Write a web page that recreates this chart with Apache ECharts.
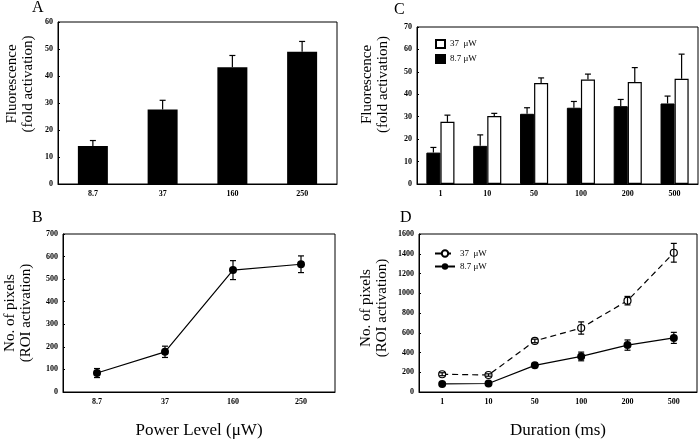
<!DOCTYPE html>
<html>
<head>
<meta charset="utf-8">
<script src="https://cdn.jsdelivr.net/npm/echarts@6/dist/echarts.min.js"></script>
<style>
html,body{margin:0;padding:0;background:#fff;}
#chart{width:700px;height:440px;}
</style>
</head>
<body>
<div id="chart"></div>
<script>
// Panel A: fluorescence vs power level
const powerLevels = ['8.7', '37', '160', '250'];
const fluorPower = [14.1, 27.6, 43.2, 49.0];
const fluorPowerErr = [2.0, 3.4, 4.4, 3.8];

// Panel B: number of pixels vs power level
const pixelsPower = [84, 178, 540, 566];
const pixelsPowerErr = [20, 25, 42, 37];

// Panel C: fluorescence vs duration
const durations = ['1', '10', '50', '100', '200', '500'];
const fluorDur87 = [14.0, 17.0, 31.3, 34.0, 34.7, 35.9];
const fluorDur87Err = [2.3, 4.9, 2.7, 2.8, 3.0, 3.3];
const fluorDur37 = [27.7, 30.3, 45.0, 46.6, 45.5, 46.9];
const fluorDur37Err = [3.0, 1.2, 2.3, 2.4, 6.4, 11.0];

// Panel D: number of pixels vs duration
const pixelsDur37 = [180, 172, 517, 648, 925, 1410];
const pixelsDur37Err = [15, 12, 18, 62, 43, 95];
const pixelsDur87 = [82, 86, 270, 360, 475, 548];
const pixelsDur87Err = [12, 18, 22, 44, 52, 56];

const serif = 'Liberation Serif';
const tickFont = {fontFamily: serif, fontWeight: 'bold', fontSize: 8, color: '#000'};

function errBarRender(offsetFrac, bothSides) {
  return function (params, api) {
    const x = api.value(0), lo = api.value(1), hi = api.value(2);
    const bw = api.size([1, 0])[0];
    const pHi = api.coord([x, hi]);
    const pLo = api.coord([x, lo]);
    const cx = pHi[0] + bw * offsetFrac;
    const cap = 3;
    const style = {stroke: '#000', lineWidth: 1.2};
    const children = [
      {type: 'line', shape: {x1: cx, y1: pLo[1], x2: cx, y2: pHi[1]}, style},
      {type: 'line', shape: {x1: cx - cap, y1: pHi[1], x2: cx + cap, y2: pHi[1]}, style}
    ];
    if (bothSides) {
      children.push({type: 'line', shape: {x1: cx - cap, y1: pLo[1], x2: cx + cap, y2: pLo[1]}, style});
    }
    return {type: 'group', children};
  };
}
function upErr(vals, errs) { return vals.map((v, i) => [i, v, v + errs[i]]); }
function bothErr(vals, errs) { return vals.map((v, i) => [i, v - errs[i], v + errs[i]]); }

function catAxis(gi, cats) {
  return {
    type: 'category', gridIndex: gi, data: cats, boundaryGap: true,
    axisLine: {lineStyle: {color: '#000', width: 1}},
    axisTick: {show: false},
    axisLabel: Object.assign({margin: 6}, tickFont)
  };
}
function valAxis(gi, max, interval, name, gap, shiftUp) {
  return {
    type: 'value', gridIndex: gi, min: 0, max, interval,
    name, nameLocation: 'middle', nameRotate: 90, nameGap: gap,
    nameTextStyle: {fontFamily: serif, fontSize: 15, color: '#000', lineHeight: 16,
                    padding: [0, 0, 0, shiftUp * 2]},
    splitLine: {show: false},
    axisLine: {show: true, lineStyle: {color: '#000', width: 1}},
    axisTick: {show: true, inside: true, length: 2, lineStyle: {color: '#000'}},
    axisLabel: Object.assign({margin: 5, formatter: v => String(v)}, tickFont)
  };
}

const chart = echarts.init(document.getElementById('chart'), null, {renderer: 'canvas'});
const stripName = n => n.replace(/ \[[CD]\]$/, '');

const xA = catAxis(0, powerLevels);
const xB = catAxis(1, powerLevels);
xB.name = 'Power Level (\u03bcW)';
xB.nameLocation = 'middle';
xB.nameGap = 30;
xB.nameTextStyle = {fontFamily: serif, fontSize: 17, color: '#000'};
const xC = catAxis(2, durations);
const xD = catAxis(3, durations);
xD.name = 'Duration (ms)';
xD.nameLocation = 'middle';
xD.nameGap = 30;
xD.nameTextStyle = {fontFamily: serif, fontSize: 17, color: '#000'};

const titleStyle = {fontFamily: serif, fontSize: 16, fontWeight: 'normal', color: '#000'};

const option = {
  backgroundColor: '#fff',
  animation: false,
  title: [
    {text: 'A', left: 32, top: 0, padding: 0, textStyle: titleStyle},
    {text: 'C', left: 394, top: 2, padding: 0, textStyle: titleStyle},
    {text: 'B', left: 32, top: 210, padding: 0, textStyle: titleStyle},
    {text: 'D', left: 400, top: 210, padding: 0, textStyle: titleStyle}
  ],
  grid: [
    {left: 58, top: 22, width: 279, height: 162, show: true, borderColor: '#000', borderWidth: 1, backgroundColor: 'transparent'},
    {left: 63, top: 234, width: 272, height: 158, show: true, borderColor: '#000', borderWidth: 1, backgroundColor: 'transparent'},
    {left: 417, top: 27, width: 281, height: 157, show: true, borderColor: '#000', borderWidth: 1, backgroundColor: 'transparent'},
    {left: 419, top: 234, width: 278, height: 158, show: true, borderColor: '#000', borderWidth: 1, backgroundColor: 'transparent'}
  ],
  xAxis: [xA, xB, xC, xD],
  yAxis: [
    valAxis(0, 60, 10, 'Fluorescence\n(fold activation)', 22, 19),
    valAxis(1, 700, 100, 'No. of pixels\n(ROI activation)', 29, 0),
    valAxis(2, 70, 10, 'Fluorescence\n(fold activation)', 26, 21),
    valAxis(3, 1600, 200, 'No. of pixels\n(ROI activation)', 29, 5)
  ],
  legend: [
    {
      data: [{name: '37  \u03bcW [C]', icon: 'rect'}, {name: '8.7 \u03bcW [C]', icon: 'rect'}],
      orient: 'vertical', left: 435, top: 39, itemWidth: 9, itemHeight: 8, itemGap: 5,
      padding: 0, selectedMode: false, formatter: stripName,
      textStyle: {fontFamily: serif, fontSize: 9, color: '#000'}
    },
    {
      data: ['37  \u03bcW [D]', '8.7 \u03bcW [D]'],
      orient: 'vertical', left: 434, top: 249, itemWidth: 20, itemHeight: 8, itemGap: 4,
      padding: 0, selectedMode: false, formatter: stripName,
      textStyle: {fontFamily: serif, fontSize: 9, color: '#000'}
    }
  ],
  series: [
    // A
    {type: 'bar', name: 'A', xAxisIndex: 0, yAxisIndex: 0, data: fluorPower, barWidth: '43%',
     itemStyle: {color: '#000'}},
    {type: 'custom', xAxisIndex: 0, yAxisIndex: 0, renderItem: errBarRender(0, false),
     data: upErr(fluorPower, fluorPowerErr), z: 5},
    // B
    {type: 'line', name: 'B', xAxisIndex: 1, yAxisIndex: 1, data: pixelsPower,
     symbol: 'circle', symbolSize: 8, lineStyle: {color: '#000', width: 1.2},
     itemStyle: {color: '#000'}},
    {type: 'custom', xAxisIndex: 1, yAxisIndex: 1, renderItem: errBarRender(0, true),
     data: bothErr(pixelsPower, pixelsPowerErr), z: 5},
    // C
    {type: 'bar', name: '8.7 \u03bcW [C]', xAxisIndex: 2, yAxisIndex: 2, data: fluorDur87,
     barGap: '0%', barCategoryGap: '40%', itemStyle: {color: '#000', borderColor: '#000', borderWidth: 1}},
    {type: 'bar', name: '37  \u03bcW [C]', xAxisIndex: 2, yAxisIndex: 2, data: fluorDur37,
     barGap: '0%', barCategoryGap: '40%', itemStyle: {color: '#fff', borderColor: '#000', borderWidth: 1.2}},
    {type: 'custom', xAxisIndex: 2, yAxisIndex: 2, renderItem: errBarRender(-0.15, false),
     data: upErr(fluorDur87, fluorDur87Err), z: 5},
    {type: 'custom', xAxisIndex: 2, yAxisIndex: 2, renderItem: errBarRender(0.15, false),
     data: upErr(fluorDur37, fluorDur37Err), z: 5},
    // D
    {type: 'line', name: '37  \u03bcW [D]', xAxisIndex: 3, yAxisIndex: 3, data: pixelsDur37,
     symbol: 'circle', symbolSize: 7, lineStyle: {color: '#000', width: 1.2, type: [6, 4]},
     itemStyle: {color: '#fff', borderColor: '#000', borderWidth: 1.2}},
    {type: 'line', name: '8.7 \u03bcW [D]', xAxisIndex: 3, yAxisIndex: 3, data: pixelsDur87,
     symbol: 'circle', symbolSize: 8, lineStyle: {color: '#000', width: 1.2},
     itemStyle: {color: '#000'}},
    {type: 'custom', xAxisIndex: 3, yAxisIndex: 3, renderItem: errBarRender(0, true),
     data: bothErr(pixelsDur37, pixelsDur37Err), z: 5},
    {type: 'custom', xAxisIndex: 3, yAxisIndex: 3, renderItem: errBarRender(0, true),
     data: bothErr(pixelsDur87, pixelsDur87Err), z: 5}
  ]
};
chart.setOption(option);
</script>
</body>
</html>
